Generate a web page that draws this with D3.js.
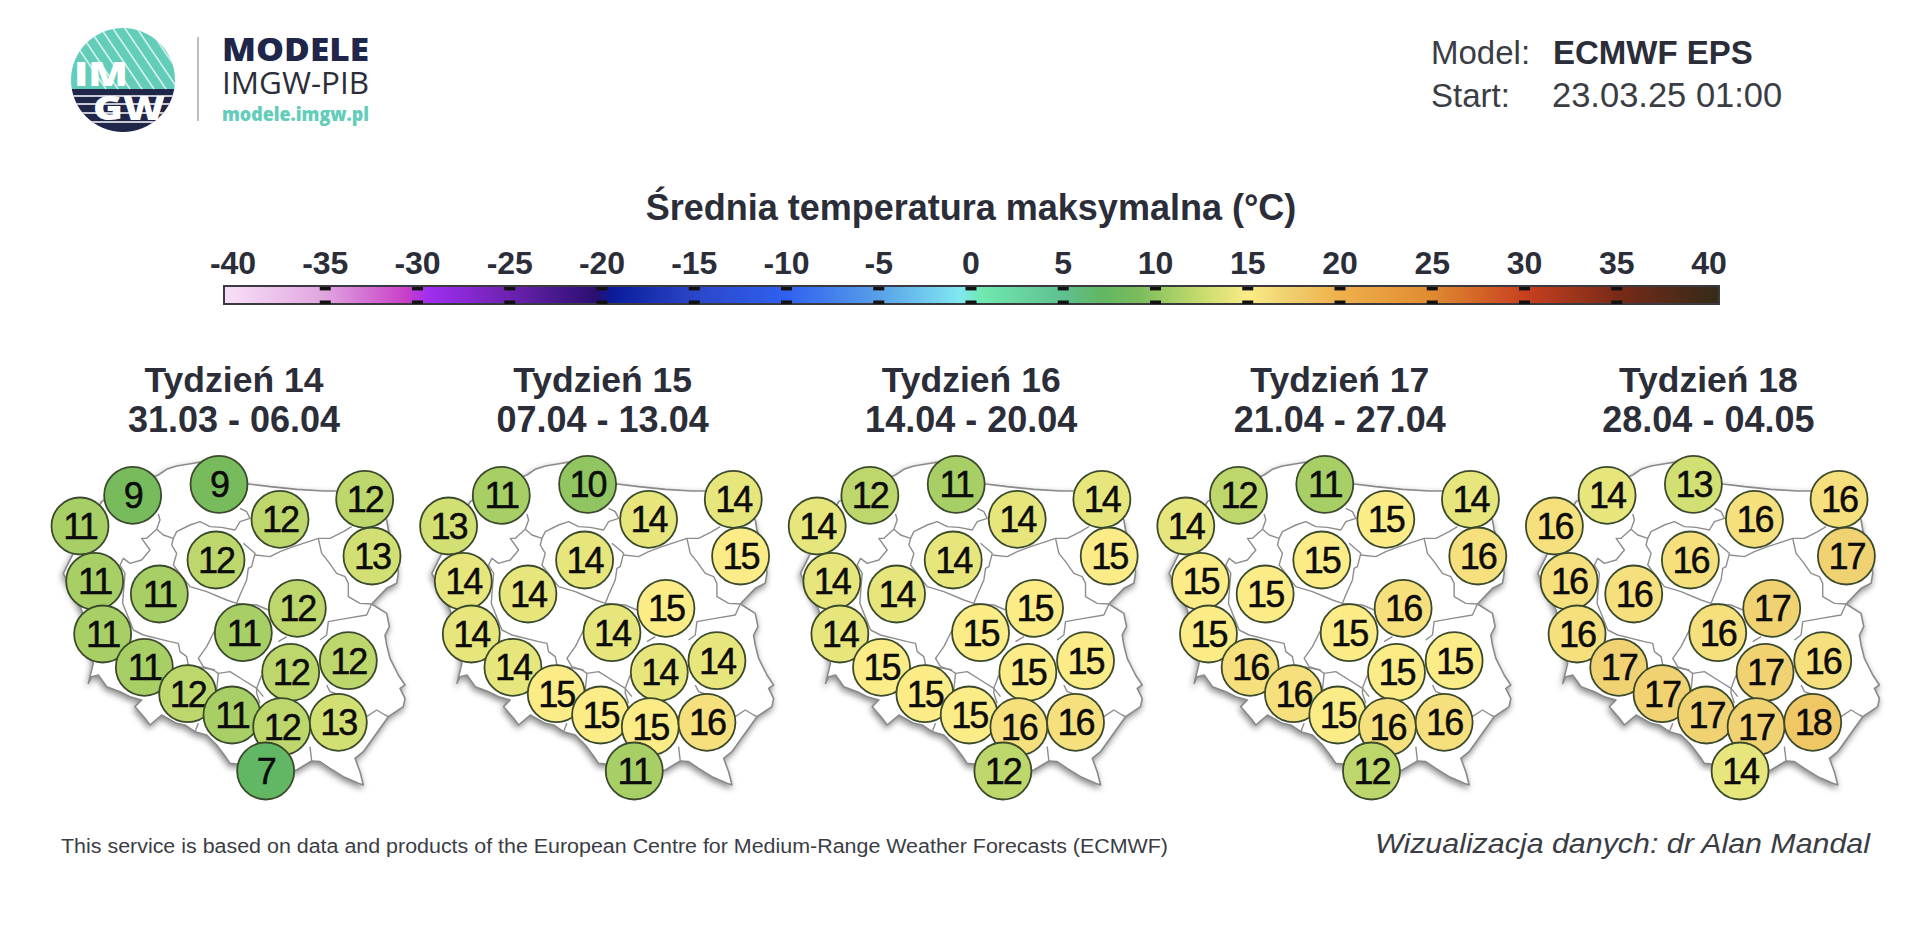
<!DOCTYPE html>
<html><head><meta charset="utf-8">
<script src="https://cdn.jsdelivr.net/npm/d3@7"></script>
<style>
html,body{margin:0;padding:0;background:#fff;overflow:hidden}
svg{display:block}
text{font-family:"Liberation Sans",Arial,sans-serif}
.logo text{font-family:"Open Sans","Noto Sans",sans-serif}
</style></head><body>
<script>
// ---------- data ----------
const chartTitle = "Średnia temperatura maksymalna (°C)";
const colorTicks = [-40,-35,-30,-25,-20,-15,-10,-5,0,5,10,15,20,25,30,35,40];
const colorStopValues = [-40,-35,-30.6,-29.4,-25,-20.4,-19.4,-15,-10,-5,-0.6,0.6,5,7,9,11,13,15,17,20,25,30,35,40];
const colorStopColors = ["#f6dcf6","#e0a4df","#c83ec8","#a02ef0","#6c22b0","#2c0f72","#0a1c9c","#2a46c8","#3060f0","#58a0e8","#80e8f2","#70e8b0","#5fc090","#62b764","#78bb5c","#a7cf66","#d2df72","#fbec87","#f0d272","#efb04a","#e08a30","#c84020","#7a2a18","#3a2a18"];
const weekNames = ["Tydzień 14","Tydzień 15","Tydzień 16","Tydzień 17","Tydzień 18"];
const weekDates = ["31.03 - 06.04","07.04 - 13.04","14.04 - 20.04","21.04 - 27.04","28.04 - 04.05"];
// station positions in map units
const stationX = [150,308,567,750,1004,1026,558,194,388,802,640,218,343,955,782,473,606,755,925,707];
const stationY = [258,166,133,238,178,348,360,424,462,505,578,582,682,662,697,761,825,860,847,993];
const week14 = [11,9,9,12,12,13,12,11,11,12,11,11,11,12,12,12,11,12,13,7];
const week15 = [13,11,10,14,14,15,14,14,14,15,14,14,14,14,14,15,15,15,16,11];
const week16 = [14,12,11,14,14,15,14,14,14,15,15,14,15,15,15,15,15,16,16,12];
const week17 = [14,12,11,15,14,16,15,15,15,16,15,15,16,15,15,16,15,16,16,12];
const week18 = [16,14,13,16,16,17,16,16,16,17,16,16,17,16,17,17,17,17,18,14];
const weeks = [week14,week15,week16,week17,week18];
// map outline and region borders, in map units
const polandOutline = [[215,185],[300,140],[385,105],[410,88],[440,78],[500,68],[567,60],[655,132],[720,140],[800,148],[880,153],[925,153],[1000,165],[1070,240],[1075,270],[1100,340],[1105,400],[1100,430],[1070,445],[1025,492],[1070,520],[1078,560],[1065,585],[1070,615],[1080,655],[1105,705],[1125,735],[1110,745],[1125,775],[1120,800],[1075,830],[1000,935],[975,955],[990,995],[1000,1035],[985,1030],[940,1010],[900,985],[870,965],[845,963],[800,990],[740,1000],[650,975],[600,970],[590,955],[560,915],[530,885],[495,875],[465,855],[440,850],[395,825],[360,855],[345,835],[315,800],[335,780],[300,770],[270,755],[230,740],[205,705],[185,710],[175,730],[190,670],[155,510],[125,450],[100,400],[125,350],[150,300]];
const regionBorders = [
 [[385,222],[390,240],[380,268],[350,295],[335,295],[360,330],[335,360],[300,370],[280,355],[270,375],[285,400],[280,460],[278,490],[310,570],[340,585],[420,605],[445,610],[450,635],[470,650],[475,675],[555,690]],
 [[380,268],[400,285],[430,295],[425,315],[440,340],[430,375],[480,440],[530,455],[590,480],[620,490],[680,495],[715,510]],
 [[430,295],[440,275],[480,255],[510,245],[540,260],[575,262],[615,270],[630,245],[660,235],[650,215],[630,205]],
 [[640,310],[675,340],[665,380],[655,385],[650,420],[630,465],[620,490]],
 [[675,345],[720,350],[750,335],[790,320],[820,310],[865,295],[900,295],[940,275],[965,260]],
 [[865,295],[875,340],[895,365],[920,400],[945,410],[955,430],[955,470],[990,490],[1025,492]],
 [[1025,492],[1010,525],[950,535],[895,545],[890,585],[870,600]],
 [[890,735],[900,755],[960,775],[1010,830],[1040,810],[1065,825],[1075,830]],
 [[840,920],[845,963]],
 [[555,570],[530,620],[505,655],[520,680],[550,690],[565,700],[600,695],[640,720],[680,745],[700,770]],
 [[565,700],[560,750]],[[680,745],[680,760],[690,790]],[[695,705],[680,745]],[[745,605],[770,590]],[[505,850],[495,875]]
];
// ---------- layout ----------
const W=1920,H=926;
const svg=d3.select("body").append("svg").attr("width",W).attr("height",H).attr("viewBox",`0 0 ${W} ${H}`);
const ink="#2b2e38";
// logo
const logo=svg.append("g").attr("class","logo");
const defs=svg.append("defs");
defs.append("clipPath").attr("id","lc").append("circle").attr("cx",123).attr("cy",80).attr("r",52);
const lg=logo.append("g").attr("clip-path","url(#lc)");
lg.append("rect").attr("x",70).attr("y",27).attr("width",106).attr("height",62).attr("fill","#62cdb9");
lg.append("rect").attr("x",70).attr("y",89).attr("width",106).attr("height",44).attr("fill","#20254a");
d3.range(0,13).forEach(i=>lg.append("line").attr("x1",64+i*12).attr("y1",27).attr("x2",64+i*12+42).attr("y2",89).attr("stroke","#fff").attr("stroke-opacity",.75).attr("stroke-width",1.6));
[96,104,113,122].forEach(y=>lg.append("line").attr("x1",70).attr("x2",176).attr("y1",y).attr("y2",y).attr("stroke","#fff").attr("stroke-width",1.4));
logo.append("text").text("IM").attr("x",74).attr("y",86).attr("fill","#fff").attr("font-size",34).attr("font-weight",800).attr("textLength",54).attr("lengthAdjust","spacingAndGlyphs");
logo.append("text").text("GW").attr("x",93).attr("y",120).attr("fill","#fff").attr("font-size",34).attr("font-weight",800).attr("textLength",72).attr("lengthAdjust","spacingAndGlyphs");
logo.append("line").attr("x1",198).attr("x2",198).attr("y1",37).attr("y2",121).attr("stroke","#aaa").attr("stroke-width",1.5);
logo.append("text").text("MODELE").attr("x",222).attr("y",61).attr("fill","#20254a").attr("font-size",32).attr("font-weight",800).attr("textLength",147).attr("lengthAdjust","spacingAndGlyphs");
logo.append("text").text("IMGW-PIB").attr("x",222).attr("y",94).attr("fill","#2b2e38").attr("font-size",31).attr("textLength",147).attr("lengthAdjust","spacingAndGlyphs");
logo.append("text").text("modele.imgw.pl").attr("x",222).attr("y",121).attr("fill","#62cdb9").attr("font-size",19).attr("font-weight",800).attr("textLength",147).attr("lengthAdjust","spacingAndGlyphs");
// top right
const txt=(s,x,y,size,o={})=>svg.append("text").text(s).attr("x",x).attr("y",y).attr("font-size",size).attr("fill",o.fill||ink).attr("font-weight",o.weight||400).attr("font-style",o.style||"normal").attr("text-anchor",o.anchor||"start");
txt("Model:",1431,64,33,{fill:"#3a3d44"});
txt("ECMWF EPS",1553,64,33,{weight:700});
txt("Start:",1431,107,33,{fill:"#3a3d44"});
txt("23.03.25 01:00",1552,107,34.5,{fill:"#3a3d44"});
// title
txt(chartTitle,971,220,36,{weight:700,anchor:"middle"});
// colour bar
const xBar=d3.scaleLinear().domain([-40,40]).range([233,1709]);
const color=d3.scaleLinear().domain(colorStopValues).range(colorStopColors).interpolate(d3.interpolateRgb);
const barL=224,barR=1719,barT=286,barB=304;
const grad=defs.append("linearGradient").attr("id","bar").attr("gradientUnits","userSpaceOnUse").attr("x1",xBar(-40)).attr("x2",xBar(40)).attr("y1",0).attr("y2",0);
colorStopValues.forEach((v,i)=>grad.append("stop").attr("offset",(v+40)/80).attr("stop-color",colorStopColors[i]));
svg.append("rect").attr("x",barL).attr("y",barT).attr("width",barR-barL).attr("height",barB-barT).attr("fill","url(#bar)").attr("stroke","#3a3a40").attr("stroke-width",2);
const axG=svg.append("g").selectAll("g").data(colorTicks).join("g");
axG.append("rect").attr("x",d=>xBar(d)-5.5).attr("y",287).attr("width",11).attr("height",3.4).attr("fill","#111");
axG.append("rect").attr("x",d=>xBar(d)-5.5).attr("y",300.5).attr("width",11).attr("height",3.4).attr("fill","#111");
axG.filter(d=>d===-40||d===40).selectAll("rect").remove();
axG.append("text").text(d=>d).attr("x",d=>xBar(d)).attr("y",274).attr("text-anchor","middle").attr("font-size",32).attr("font-weight",700).attr("fill",ink);
// panels
const panelStep=368.6;
const sx=d3.scaleLinear().domain([0,1200]).range([30,430]);
const sy=d3.scaleLinear().domain([0,1170]).range([440,830]);
const line=d3.line().x(d=>sx(d[0])).y(d=>sy(d[1]));
weeks.forEach((vals,k)=>{
  const g=svg.append("g").attr("transform",`translate(${k*panelStep},0)`);
  g.append("text").text(weekNames[k]).attr("x",234).attr("y",392).attr("text-anchor","middle").attr("font-size",35.5).attr("font-weight",700).attr("fill",ink);
  g.append("text").text(weekDates[k]).attr("x",234).attr("y",432).attr("text-anchor","middle").attr("font-size",36).attr("font-weight",700).attr("fill",ink);
  g.append("path").attr("d",line(polandOutline)+"Z").attr("fill","#fff").attr("stroke","#8a8a8a").attr("stroke-width",1.6).attr("stroke-linejoin","round").style("filter","drop-shadow(-1px 3px 3px rgba(0,0,0,.45))");
  g.append("g").selectAll("path").data(regionBorders).join("path").attr("d",line).attr("fill","none").attr("stroke","#8d8d8d").attr("stroke-width",1.4).attr("stroke-linejoin","round");
  const st=g.append("g").selectAll("g").data(vals).join("g").attr("transform",(d,i)=>`translate(${sx(stationX[i])},${sy(stationY[i])})`);
  st.append("circle").attr("r",28.5).attr("fill",d=>color(d)).attr("stroke","#3b4a2c").attr("stroke-width",1.8);
  st.append("text").text(d=>d).attr("text-anchor","middle").attr("y",13).attr("font-size",36).attr("letter-spacing",-2).attr("fill","#0c0c0c").attr("stroke","#0c0c0c").attr("stroke-width",.5);
});
// footer
txt("This service is based on data and products of the European Centre for Medium-Range Weather Forecasts (ECMWF)",61,853,20,{fill:"#3a3d44"}).attr("textLength",1107).attr("lengthAdjust","spacingAndGlyphs");
txt("Wizualizacja danych: dr Alan Mandal",1375,853,28,{style:"italic",fill:"#3a3d44"}).attr("textLength",495).attr("lengthAdjust","spacingAndGlyphs");
</script>
</body></html>
